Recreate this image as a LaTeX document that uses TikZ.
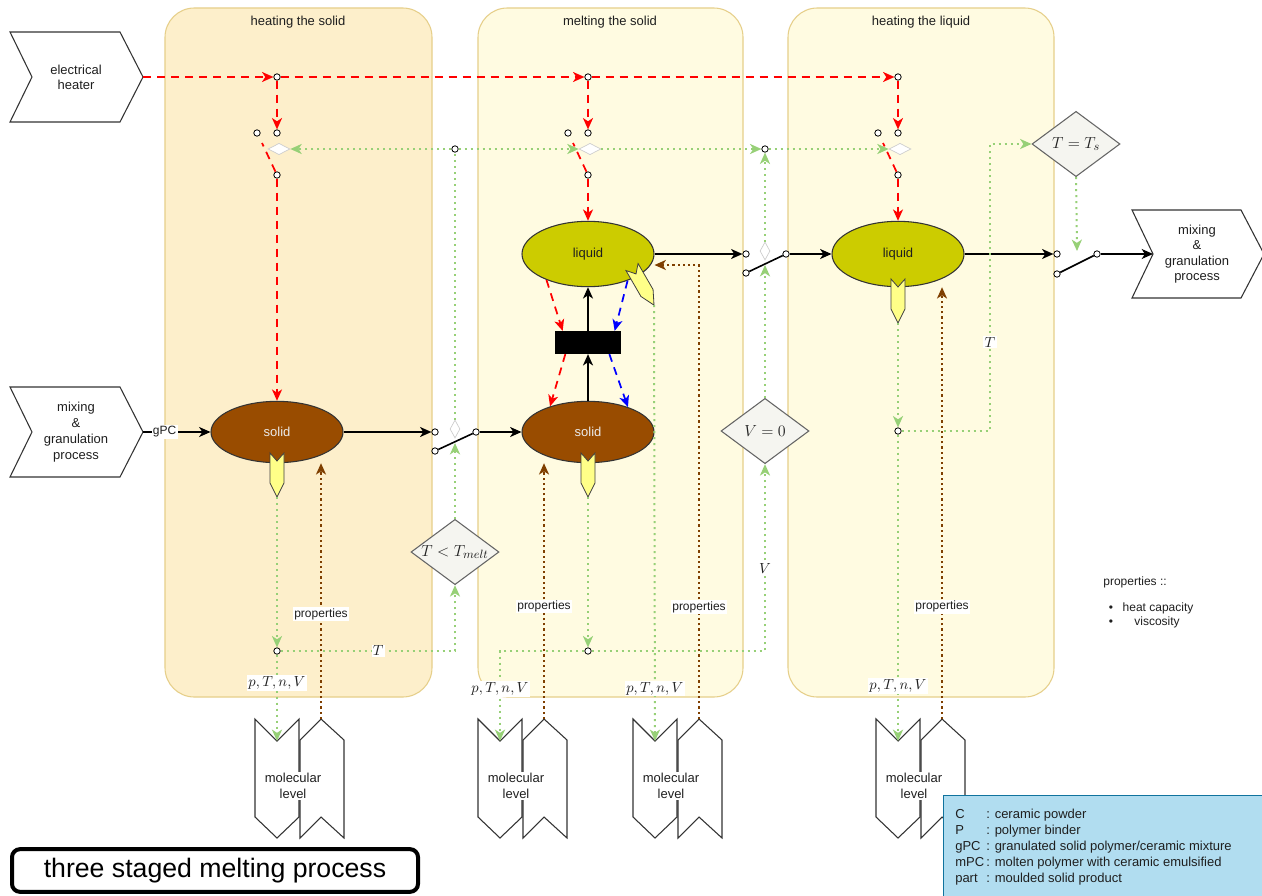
\documentclass[tikz,border=0pt]{standalone}
\usepackage[no-math]{fontspec}
\setmainfont{Liberation Sans}
\usetikzlibrary{arrows.meta,shapes.geometric}

\definecolor{panelA}{HTML}{FDEFCB}
\definecolor{panelB}{HTML}{FFFBE1}
\definecolor{panelEdge}{HTML}{E6CF8A}
\definecolor{solidFill}{HTML}{994C00}
\definecolor{liquidFill}{HTML}{CCCC00}
\definecolor{sigGreen}{HTML}{97D077}
\definecolor{propBrown}{HTML}{7F3F00}
\definecolor{tagFill}{HTML}{FFFF88}
\definecolor{decFill}{HTML}{F5F5F0}
\definecolor{legendFill}{HTML}{B1DDF0}
\definecolor{legendEdge}{HTML}{10739E}

\newcommand\fnMain{\fontsize{9.75}{11.5}\selectfont}
\newcommand\fnSmall{\fontsize{9}{10.5}\selectfont}
\newcommand\fnMathLbl{\fontsize{11}{13}\selectfont}
\newcommand\fnDec{\fontsize{12.5}{14}\selectfont}
\newcommand\fnTitle{\fontsize{20}{24}\selectfont}

\tikzset{
  tagpic/.pic={
    \draw[tagline] (-7,0) -- (0,8) -- (7,0) -- (7,30) -- (0,44) -- (-7,30) -- cycle;
    \coordinate (-tip) at (0,44);
  },
  molpic/.pic={
    \draw[molline] (0,0) -- (22,22) -- (44,0) -- (44,98) -- (22,119) -- (0,98) -- cycle;
    \draw[molline] (45,21) -- (66,0) -- (89,21) -- (89,119) -- (66,98) -- (45,119) -- cycle;
    \node[fill=white, inner sep=1pt, align=center, font=\fontsize{9.75}{12}\selectfont] (-txt) at (38,67) {molecular\\level};
    \coordinate (-in) at (22,22);
    \coordinate (-out) at (66,0);
  }
}

\begin{document}
\begin{tikzpicture}[x=0.75pt, y=-0.75pt, font=\fnMain, text=black!88,
  arr/.style={-{Stealth[length=8.5pt,width=7.5pt,inset=2.4pt]}},
  flow/.style={draw=black, line width=1.2pt},
  heat/.style={draw=red, line width=1.3pt, dash pattern=on 6pt off 4.5pt},
  cool/.style={draw=blue, line width=1.3pt, dash pattern=on 6pt off 4.5pt},
  sig/.style={draw=sigGreen, line width=1.5pt, dash pattern=on 1.5pt off 3pt},
  prop/.style={draw=propBrown, line width=1.7pt, dash pattern=on 1.7pt off 2.2pt},
  panel/.style={draw=panelEdge, line width=0.8pt, rounded corners=22pt},
  chev/.style={draw=black!80, fill=white, line width=0.8pt},
  molline/.style={draw=black!80, fill=white, line width=0.8pt},
  tagline/.style={draw=black!75, fill=tagFill, line width=0.6pt},
  dot/.style={circle, draw=black, fill=white, line width=0.6pt, minimum size=4.8pt, inner sep=0pt},
  ctrl/.style={diamond, draw=black!20, fill=white, line width=0.5pt, inner sep=0pt},
  decision/.style={diamond, draw=black!60, fill=decFill, line width=0.8pt, inner sep=0pt,
    aspect=1.39, minimum width=66pt, minimum height=49pt, font=\fnDec},
  phase/.style={ellipse, draw=black!80, line width=0.8pt, minimum width=99pt},
  elabel/.style={fill=white, inner sep=1pt},
  mlabel/.style={fill=white, inner sep=1pt, font=\fnMathLbl}
]
\useasboundingbox (0,0) rectangle (1262,895);
\fill[white] (0,0) rectangle (1262,895);

% stage panels
\draw[panel, fill=panelA] (165,8) rectangle (432,697);
\draw[panel, fill=panelB] (478,8) rectangle (743,697);
\draw[panel, fill=panelB] (788,8) rectangle (1054,697);
\node (ttlA) at (298,22) {heating the solid};
\node (ttlB) at (610,22) {melting the solid};
\node (ttlC) at (921,22) {heating the liquid};

% external processes
\draw[chev] (10,32) -- (120,32) -- (143,77) -- (120,122) -- (10,122) -- (32,77) -- cycle;
\node[align=center, font=\fontsize{9.75}{11.3}\selectfont] (heater) at (76,77) {electrical\\heater};
\coordinate (heaterTip) at (143,77);
\draw[chev] (10,387) -- (120,387) -- (143,432) -- (120,477) -- (10,477) -- (32,432) -- cycle;
\node[align=center, font=\fontsize{9.75}{12}\selectfont] (mixIn) at (76,432) {mixing\\\&\\granulation\\process};
\coordinate (mixInTip) at (143,432);
\draw[chev] (1132,210) -- (1241,210) -- (1264,254) -- (1241,298) -- (1132,298) -- (1153,254) -- cycle;
\node[align=center, font=\fontsize{9.75}{11.5}\selectfont] (mixOut) at (1197,254) {mixing\\\&\\granulation\\process};
\coordinate (mixOutNotch) at (1153,254);

% phases
\node[phase, fill=solidFill, text=white!92!black, minimum height=46pt] (solidA) at (277,432) {solid};
\node[phase, fill=solidFill, text=white!92!black, minimum height=46pt] (solidB) at (588,432) {solid};
\node[phase, fill=liquidFill, minimum height=49pt] (liquidA) at (588,254) {liquid};
\node[phase, fill=liquidFill, minimum height=49pt] (liquidB) at (898,254) {liquid};
\node[fill=black, minimum width=50pt, minimum height=17pt, inner sep=0pt] (melt) at (588,342.5) {};

% heater junctions and heater switches
\foreach \s/\x in {A/277,B/588,C/898}{
  \node[dot] (hj\s) at (\x,77) {};
  \node[dot] (hc\s) at (\x,133) {};
  \node[dot] (hk\s) at (\x-20,133) {};
  \node[dot] (hp\s) at (\x,175) {};
  \coordinate (hl\s) at (\x-15,143);
  \draw[heat] (hp\s) -- (hl\s);
  \node[ctrl, minimum width=16.5pt, minimum height=8.5pt] (hd\s) at (\x+2,149) {};
  \draw[heat,arr] (hj\s) -- (hc\s);
}
\draw[heat,arr] (heaterTip) -- (hjA);
\draw[heat,arr] (hjA) -- (hjB);
\draw[heat,arr] (hjB) -- (hjC);
\draw[heat,arr] (hpA) -- (solidA);
\draw[heat,arr] (hpB) -- (liquidA);
\draw[heat,arr] (hpC) -- (liquidB);

% process switches
\node[dot] (swAin) at (435,432) {};
\node[dot] (swAlo) at (435,451) {};
\node[dot] (swAout) at (476,432) {};
\node[ctrl, minimum width=7.5pt, minimum height=13.5pt] (swAc) at (455,429) {};
\coordinate (swAtap) at (455,443);
\node[dot] (swBin) at (746,254) {};
\node[dot] (swBlo) at (746,273) {};
\node[dot] (swBout) at (786,254) {};
\node[ctrl, minimum width=7.5pt, minimum height=13.5pt] (swBc) at (765,251) {};
\coordinate (swBtap) at (765,265);
\node[dot] (swCin) at (1057,254) {};
\node[dot] (swClo) at (1057,274) {};
\node[dot] (swCout) at (1097,254) {};
\coordinate (swCtap) at (1077,251);

% material flow
\draw[flow,arr] (mixInTip) -- node[elabel, pos=0.32, font=\fnSmall] {gPC} (solidA);
\draw[flow,arr] (solidA) -- (swAin);
\draw[flow] (swAlo) -- (swAout);
\draw[flow,arr] (swAout) -- (solidB);
\draw[flow,arr] (solidB) -- (melt);
\draw[flow,arr] (melt) -- (liquidA);
\draw[flow,arr] (liquidA) -- (swBin);
\draw[flow] (swBlo) -- (swBout);
\draw[flow,arr] (swBout) -- (liquidB);
\draw[flow,arr] (liquidB) -- (swCin);
\draw[flow] (swClo) -- (swCout);
\draw[flow,arr] (swCout) -- (mixOutNotch);

% heat exchange around the melting step
\draw[heat,arr] (liquidA.212) -- ([xshift=-19pt]melt.north);
\draw[heat,arr] ([xshift=-17pt]melt.south) -- (solidB.146);
\draw[cool,arr] (liquidA.326) -- ([xshift=20pt]melt.north);
\draw[cool,arr] ([xshift=16pt]melt.south) -- (solidB.32);

% decisions
\node[decision] (tmelt) at (455,552) {$T<T_{melt}$};
\node[decision] (vzero) at (765,431) {$V=0$};
\node[decision] (tsdec) at (1076,144) {$T=T_s$};

% signal junctions
\node[dot] (gjA) at (455,149) {};
\node[dot] (gjB) at (765,149) {};
\node[dot] (gA) at (277,651) {};
\node[dot] (gB) at (588,651) {};
\node[dot] (gC) at (898,431) {};

% state taps
\pic (tagA) at (277,453) {tagpic};
\pic (tagB) at (588,453) {tagpic};
\pic (tagC) at (898,279) {tagpic};
\pic[rotate=30] (tagL) at (632,267) {tagpic};

% molecular level models
\pic (molA) at (255,719) {molpic};
\pic (molB) at (478,719) {molpic};
\pic (molC) at (633,719) {molpic};
\pic (molD) at (876,719) {molpic};

% state signals
\draw[sig,arr] (tagA-tip) -- (gA);
\draw[sig,arr] (gA) -- node[mlabel, pos=0.33] {$p,T,n,V$} (molA-in);
\draw[sig,arr] (gA) -| node[mlabel, pos=0.28] {$T$} (tmelt.south);
\draw[sig,arr] (tmelt.north) -- (swAtap);
\draw[sig] (swAc) -- (gjA);
\draw[sig,arr] (gjA) -- (hdA);
\draw[sig,arr] (gjA) -- (hdB);
\draw[sig,arr] (hdB) -- (gjB);
\draw[sig,arr] (gjB) -- (hdC);
\draw[sig,arr] (swBc) -- (gjB);
\draw[sig,arr] (vzero.north) -- (swBtap);
\draw[sig,arr] (tagB-tip) -- (gB);
\draw[sig,arr] (gB) -| node[mlabel, pos=0.72] {$V$} (vzero.south);
\draw[sig,arr] (gB) -| node[mlabel, pos=0.71] {$p,T,n,V$} (molB-in);
\draw[sig,arr] (tagL-tip) -- node[mlabel, pos=0.88] {$p,T,n,V$} (molC-in);
\draw[sig,arr] (tagC-tip) -- (gC);
\draw[sig,arr] (gC) -- node[mlabel, pos=0.82] {$p,T,n,V$} (molD-in);
\draw[sig,arr] (gC) -- ++(92,0) |- node[mlabel, pos=0.155] {$T$} (tsdec.west);
\draw[sig,arr] (tsdec.south) -- (swCtap);

% property feedback
\draw[prop,arr] (molA-out) -- node[elabel, pos=0.41, font=\fnSmall] {properties} (molA-out |- solidA.south);
\draw[prop,arr] (molB-out) -- node[elabel, pos=0.44, font=\fnSmall] {properties} (molB-out |- solidB.south);
\draw[prop,arr] (molC-out) |- node[elabel, pos=0.123, font=\fnSmall] {properties} ([yshift=-8.25pt]liquidA.east);
\draw[prop,arr] (molD-out) -- node[elabel, pos=0.26, font=\fnSmall] {properties} (molD-out |- liquidB.south);

% property list
\node[font=\fnSmall] (propHead) at (1135,582) {properties ::};
\node[font=\fnSmall] (bulA) at (1111,609) {•};
\node[font=\fnSmall] (bulB) at (1111,623) {•};
\node[font=\fnSmall] (propA) at (1158,608) {heat capacity};
\node[font=\fnSmall] (propB) at (1157,622) {viscosity};

% abbreviations
\node[draw=legendEdge, fill=legendFill, line width=0.8pt, anchor=north west,
  minimum width=248pt, minimum height=80pt, inner sep=0pt] (legendBox) at (943,795) {};
\node[anchor=west, inner sep=0pt, font=\fontsize{9.75}{12}\selectfont] (legend) at (955,847.5)
  {\begin{tabular}{@{}l@{\,}l@{}}
   C & : ceramic powder\\
   P & : polymer binder\\
   gPC & : granulated solid polymer/ceramic mixture\\
   mPC & : molten polymer with ceramic emulsified\\
   part & : moulded solid product
   \end{tabular}};

% caption
\node[draw=black, line width=3pt, rounded corners=6pt, minimum width=304.5pt,
  minimum height=32pt, inner sep=0pt, font=\fnTitle, text=black] (title) at (215,870.5)
  {three staged melting process};
\end{tikzpicture}
\end{document}
